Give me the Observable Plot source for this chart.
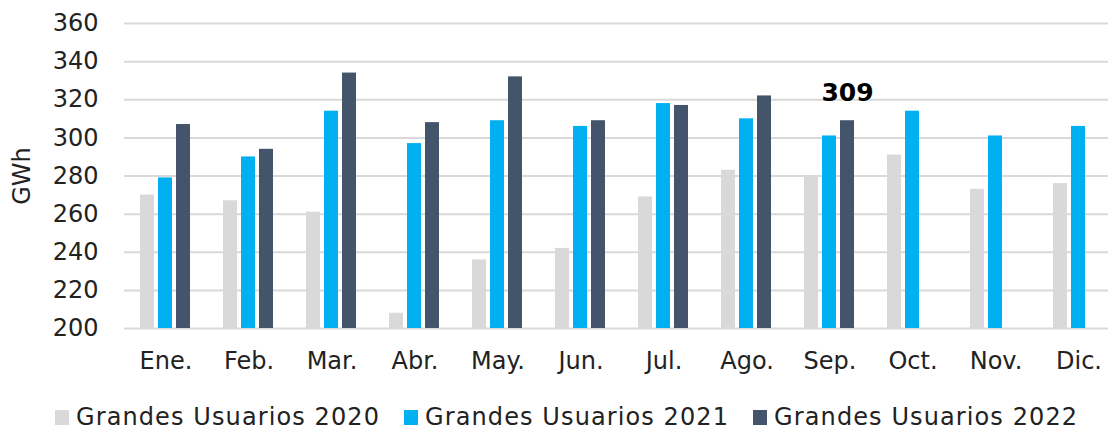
<!DOCTYPE html>
<html>
<head>
<meta charset="utf-8">
<script src="https://cdn.jsdelivr.net/npm/d3@7"></script>
<script src="https://cdn.jsdelivr.net/npm/@observablehq/plot@0.6"></script>
<style>
  html, body { margin: 0; padding: 0; background: #fff; overflow: hidden; }
  #chart { width: 1108px; }
  .legend { display: flex; align-items: center; flex-wrap: nowrap; white-space: nowrap; font-family: "DejaVu Sans", sans-serif; font-size: 24px; letter-spacing: 1.1px; color: #222; margin-top: 12px; padding-left: 55px; line-height: 26px; width: 1100px; }
  .legend .item { display: flex; align-items: center; flex: none; margin-right: 24px; }
  .legend .sw { width: 14px; height: 15px; margin-right: 7px; flex: none; }
</style>
</head>
<body>
<div id="chart"></div>
<script>
const months = ["Ene.", "Feb.", "Mar.", "Abr.", "May.", "Jun.", "Jul.", "Ago.", "Sep.", "Oct.", "Nov.", "Dic."];
const series = ["Grandes Usuarios 2020", "Grandes Usuarios 2021", "Grandes Usuarios 2022"];
const values2020 = [270, 267, 261, 208, 236, 242, 269, 283, 280, 291, 273, 276];
const values2021 = [279, 290, 314, 297, 309, 306, 318, 310, 301, 314, 301, 306];
const values2022 = [307, 294, 334, 308, 332, 309, 317, 322, 309, null, null, null];
const colors = ["#d9d9d9", "#00b0f0", "#44546a"];
const yTicks = [200, 220, 240, 260, 280, 300, 320, 340, 360];
const baseline = 200;
const annotation = [{month: "Sep.", serie: "Grandes Usuarios 2022", value: 309}];

const all = [values2020, values2021, values2022];
const data = [];
months.forEach((m, i) => {
  series.forEach((s, j) => {
    const v = all[j][i];
    if (v != null) data.push({month: m, serie: s, value: v});
  });
});

const font = "DejaVu Sans, sans-serif";
const chart = Plot.plot({
  width: 1108,
  height: 392,
  marginLeft: 121,
  marginRight: -15,
  marginTop: 23,
  marginBottom: 64,
  style: {fontFamily: font, fontSize: "24px", color: "#222", background: "#fff"},
  fx: {domain: months, padding: 0, label: null},
  x: {domain: series, paddingInner: 0.22, paddingOuter: 0.86, axis: null},
  y: {domain: [200, 360], ticks: yTicks},
  color: {domain: series, range: colors},
  marks: [
    Plot.ruleY(yTicks, {stroke: "#d9d9d9", strokeWidth: 2}),
    Plot.barY(data, {fx: "month", x: "serie", y1: baseline, y2: "value", fill: "serie"}),
    Plot.text(annotation, {fx: "month", x: "serie", y: "value", text: d => String(d.value), dy: -20, lineAnchor: "bottom", fontWeight: "bold", fontSize: 25, fill: "#000"}),
    Plot.axisY({ticks: yTicks, tickSize: 0, tickPadding: 26, label: null, fontSize: 24}),
    Plot.axisY({ticks: [], tickSize: 0, label: "GWh", labelAnchor: "center", labelOffset: 112, labelArrow: "none", fontSize: 24}),
    Plot.axisFx({anchor: "bottom", tickSize: 0, tickPadding: 23, label: null, fontSize: 24})
  ]
});
document.getElementById("chart").appendChild(chart);

const legend = document.createElement("div");
legend.className = "legend";
series.forEach((s, j) => {
  const item = document.createElement("div");
  item.className = "item";
  const sw = document.createElement("span");
  sw.className = "sw";
  sw.style.background = colors[j];
  const t = document.createElement("span");
  t.textContent = s;
  item.appendChild(sw);
  item.appendChild(t);
  legend.appendChild(item);
});
document.getElementById("chart").appendChild(legend);
</script>
</body>
</html>
